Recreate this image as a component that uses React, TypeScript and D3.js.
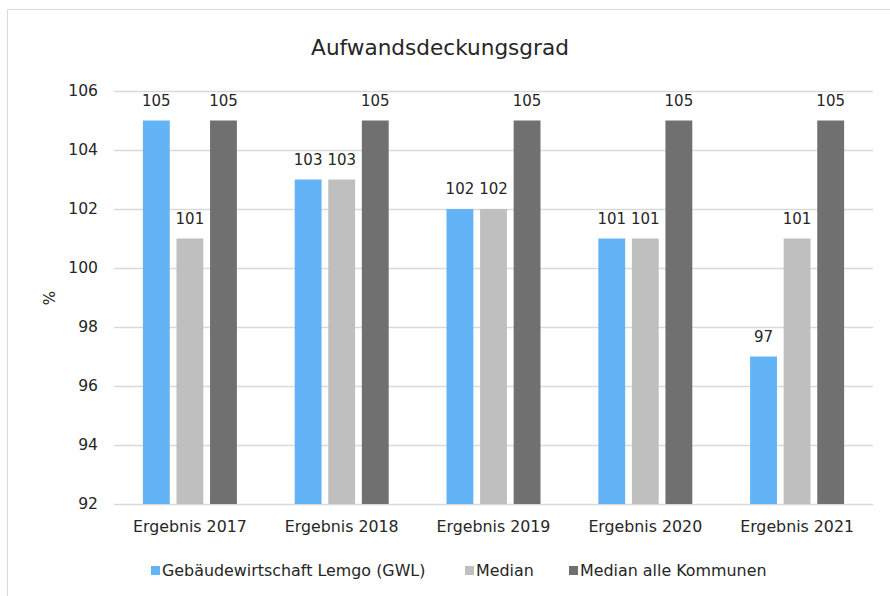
import React, { useEffect, useRef } from 'react';
import * as d3 from 'd3';

const categories = ['Ergebnis 2017', 'Ergebnis 2018', 'Ergebnis 2019', 'Ergebnis 2020', 'Ergebnis 2021'];
const seriesNames = ['Gebäudewirtschaft Lemgo (GWL)', 'Median', 'Median alle Kommunen'];
const gwl = [105, 103, 102, 101, 97];
const median = [101, 103, 102, 101, 101];
const medianAlle = [105, 105, 105, 105, 105];
const yTicks = [92, 94, 96, 98, 100, 102, 104, 106];
const colors = ['#63b4f6', '#bfbfbf', '#707070'];

export default function App() {
    const ref = useRef<SVGSVGElement>(null);

    useEffect(() => {
        const svg = d3.select(ref.current);
        svg.selectAll('*').remove();

        const font = 'DejaVu Sans, Verdana, sans-serif';
        const left = 114, right = 873, top = 91, bottom = 504;
        const values = [gwl, median, medianAlle];

        const x0 = d3.scaleBand().domain(categories).range([left, right]);
        const groupW = 94;
        const x1 = d3.scaleBand().domain(seriesNames).range([0, groupW]).paddingInner(0.2);
        const y = d3.scaleLinear().domain([92, 106]).range([bottom, top]);

        // chart border
        svg.append('rect')
            .attr('x', 7.5).attr('y', 9.5)
            .attr('width', 1000).attr('height', 1000)
            .attr('fill', 'white')
            .attr('stroke', '#d9d9d9');

        svg.append('text')
            .attr('x', 440).attr('y', 55)
            .attr('text-anchor', 'middle')
            .attr('font-family', font)
            .attr('font-size', 21.6)
            .attr('fill', '#262626')
            .text('Aufwandsdeckungsgrad');

        // gridlines + y labels
        const g = svg.append('g');
        yTicks.forEach(t => {
            g.append('line')
                .attr('x1', left).attr('x2', right)
                .attr('y1', Math.round(y(t)) + 0.5).attr('y2', Math.round(y(t)) + 0.5)
                .attr('stroke', '#d9d9d9').attr('stroke-width', 1.3);
            g.append('text')
                .attr('x', 98).attr('y', y(t))
                .attr('dy', '0.35em')
                .attr('text-anchor', 'end')
                .attr('font-family', font).attr('font-size', 15.6)
                .attr('fill', '#262626')
                .text(t);
        });

        svg.append('text')
            .attr('transform', `translate(55, 298) rotate(-90)`)
            .attr('text-anchor', 'middle')
            .attr('font-family', font).attr('font-size', 15)
            .attr('fill', '#262626')
            .text('%');

        // bars
        categories.forEach((c, i) => {
            const gx = x0(c)! + (x0.bandwidth() - groupW) / 2;
            seriesNames.forEach((s, j) => {
                const v = values[j][i];
                const bx = gx + x1(s)!;
                svg.append('rect')
                    .attr('x', bx).attr('y', y(v))
                    .attr('width', x1.bandwidth())
                    .attr('height', y(92) - y(v))
                    .attr('fill', colors[j]);
                svg.append('text')
                    .attr('x', bx + x1.bandwidth() / 2).attr('y', y(v) - 15)
                    .attr('text-anchor', 'middle')
                    .attr('font-family', font).attr('font-size', 15)
                    .attr('fill', '#262626')
                    .text(v);
            });
            svg.append('text')
                .attr('x', x0(c)! + x0.bandwidth() / 2).attr('y', 532)
                .attr('text-anchor', 'middle')
                .attr('font-family', font).attr('font-size', 15.8)
                .attr('fill', '#262626')
                .text(c);
        });

        // legend
        const legendX = [151, 465, 569];
        seriesNames.forEach((s, j) => {
            svg.append('rect')
                .attr('x', legendX[j]).attr('y', 566)
                .attr('width', 9).attr('height', 9)
                .attr('fill', colors[j]);
            svg.append('text')
                .attr('x', legendX[j] + 11).attr('y', 576)
                .attr('font-family', font).attr('font-size', 15.9)
                .attr('fill', '#262626')
                .text(s);
        });
    }, []);

    return (
        <svg ref={ref} width={890} height={596}
            style={{ position: 'absolute', left: 0, top: 0, background: 'white' }} />
    );
}
